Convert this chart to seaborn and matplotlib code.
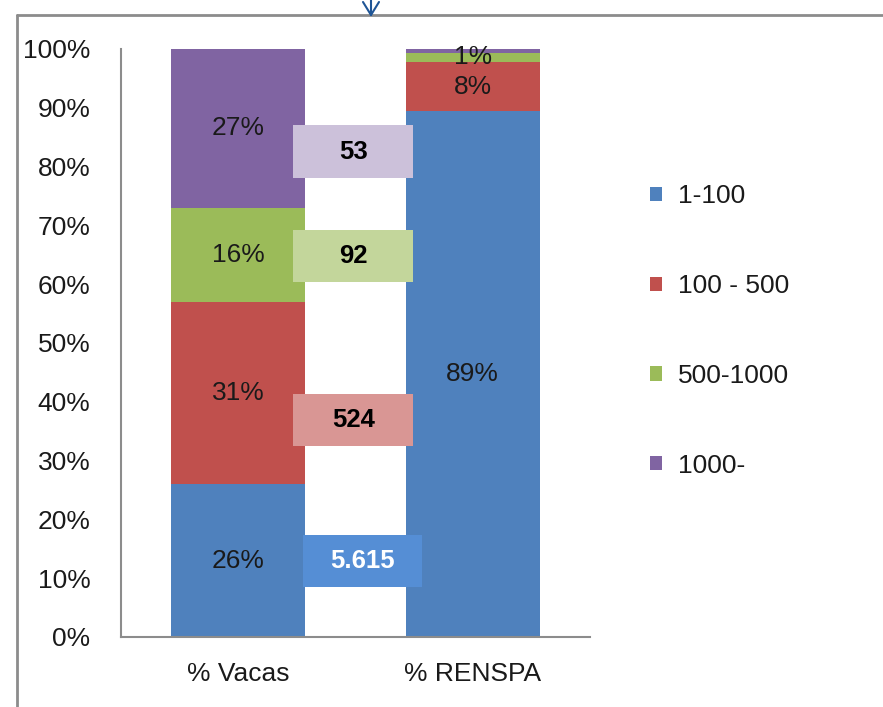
import matplotlib
matplotlib.use("Agg")
import matplotlib.pyplot as plt
from matplotlib.patches import Patch, Rectangle
import seaborn as sns
import pandas as pd
import numpy as np

# Data: share of cows and of RENSPA registrations by herd-size range
groups = ["% Vacas", "% RENSPA"]
ranges = ["1-100", "100 - 500", "500-1000", "1000-"]
vacas = [26, 31, 16, 27]
renspa = [89.4, 8.4, 1.5, 0.7]
# number of establishments per range, shown in the call-out boxes
box_counts = ["5.615", "524", "92", "53"]

# Styling / layout
colors = ["#4F81BD", "#C0504D", "#9BBB59", "#8064A2"]
box_colors = ["#558ED5", "#D99694", "#C3D69B", "#CCC1DA"]
box_text_colors = ["white", "black", "black", "black"]
box_x = [0.53, 0.49, 0.49, 0.49]
box_y = [8.5, 32.5, 60.4, 78.1]
box_w = 0.51
box_h = 8.9
show_label = [[True, True, True, True], [True, True, False, True]]

sns.set_theme(style="white")
plt.rcParams["font.family"] = ["Liberation Sans", "DejaVu Sans"]

fig = plt.figure(figsize=(8.83, 7.07), dpi=100)
ax = fig.add_axes([121 / 883, 1 - 637 / 707, (590 - 121) / 883, 588 / 707])

values = np.array([vacas, renspa])  # shape (group, range)
bottoms = np.zeros(len(groups))
for j, rng in enumerate(ranges):
    df = pd.DataFrame({"grupo": groups, "pct": values[:, j]})
    sns.barplot(data=df, x="grupo", y="pct", order=groups, color=colors[j],
                width=0.57, bottom=bottoms.copy(), saturation=1, errorbar=None,
                linewidth=0, ax=ax)
    for i in range(len(groups)):
        if show_label[i][j]:
            yc = min(bottoms[i] + values[i, j] / 2, 98.6)
            ax.text(i, yc, f"{values[i, j]:.0f}%", ha="center", va="center",
                    fontsize=19, color="#1a1a1a")
    bottoms += values[:, j]

# Call-out boxes with establishment counts
for k in range(len(box_counts)):
    ax.add_patch(Rectangle((box_x[k] - box_w / 2, box_y[k]), box_w, box_h,
                           facecolor=box_colors[k], edgecolor="none", zorder=5))
    ax.text(box_x[k], box_y[k] + box_h / 2, box_counts[k], ha="center", va="center",
            fontsize=18.5, fontweight="bold", color=box_text_colors[k], zorder=6)

ax.set_xlim(-0.5, 1.5)
ax.set_ylim(0, 100)
ax.set_yticks(np.arange(0, 101, 10))
ax.set_yticklabels([f"{v}%" for v in range(0, 101, 10)])
ax.set_xlabel("")
ax.set_ylabel("")
ax.tick_params(axis="y", length=0, pad=22, labelsize=19, labelcolor="#1a1a1a")
ax.tick_params(axis="x", length=0, pad=18, labelsize=19, labelcolor="#1a1a1a")
for side in ["top", "right"]:
    ax.spines[side].set_visible(False)
for side in ["left", "bottom"]:
    ax.spines[side].set_color("#8c8c8c")
    ax.spines[side].set_linewidth(1.5)

handles = [Patch(facecolor=c, edgecolor="none") for c in colors]
fig.legend(handles, ranges, loc="center left", bbox_to_anchor=(650 / 883, 1 - 331 / 707),
           frameon=False, fontsize=19, handlelength=0.45, handleheight=0.45,
           handletextpad=0.6, labelspacing=2.49, borderpad=0, borderaxespad=0,
           labelcolor="#1a1a1a")

# Outer frame of the chart area and the pointer arrow above it
fig.add_artist(plt.Line2D([17 / 883, 17 / 883], [0, 1 - 15 / 707], color="#8c8c8c",
                          lw=2, transform=fig.transFigure))
fig.add_artist(plt.Line2D([17 / 883, 1], [1 - 15 / 707, 1 - 15 / 707], color="#8c8c8c",
                          lw=2, transform=fig.transFigure))
fig.add_artist(plt.Line2D([371 / 883, 371 / 883], [1, 1 - 15 / 707], color="#1F5596",
                          lw=1.5, transform=fig.transFigure))
fig.add_artist(plt.Line2D([363 / 883, 371 / 883, 379 / 883],
                          [1 - 2 / 707, 1 - 15 / 707, 1 - 2 / 707], color="#1F5596",
                          lw=1.5, transform=fig.transFigure))

fig.savefig("out.png", dpi=100)
